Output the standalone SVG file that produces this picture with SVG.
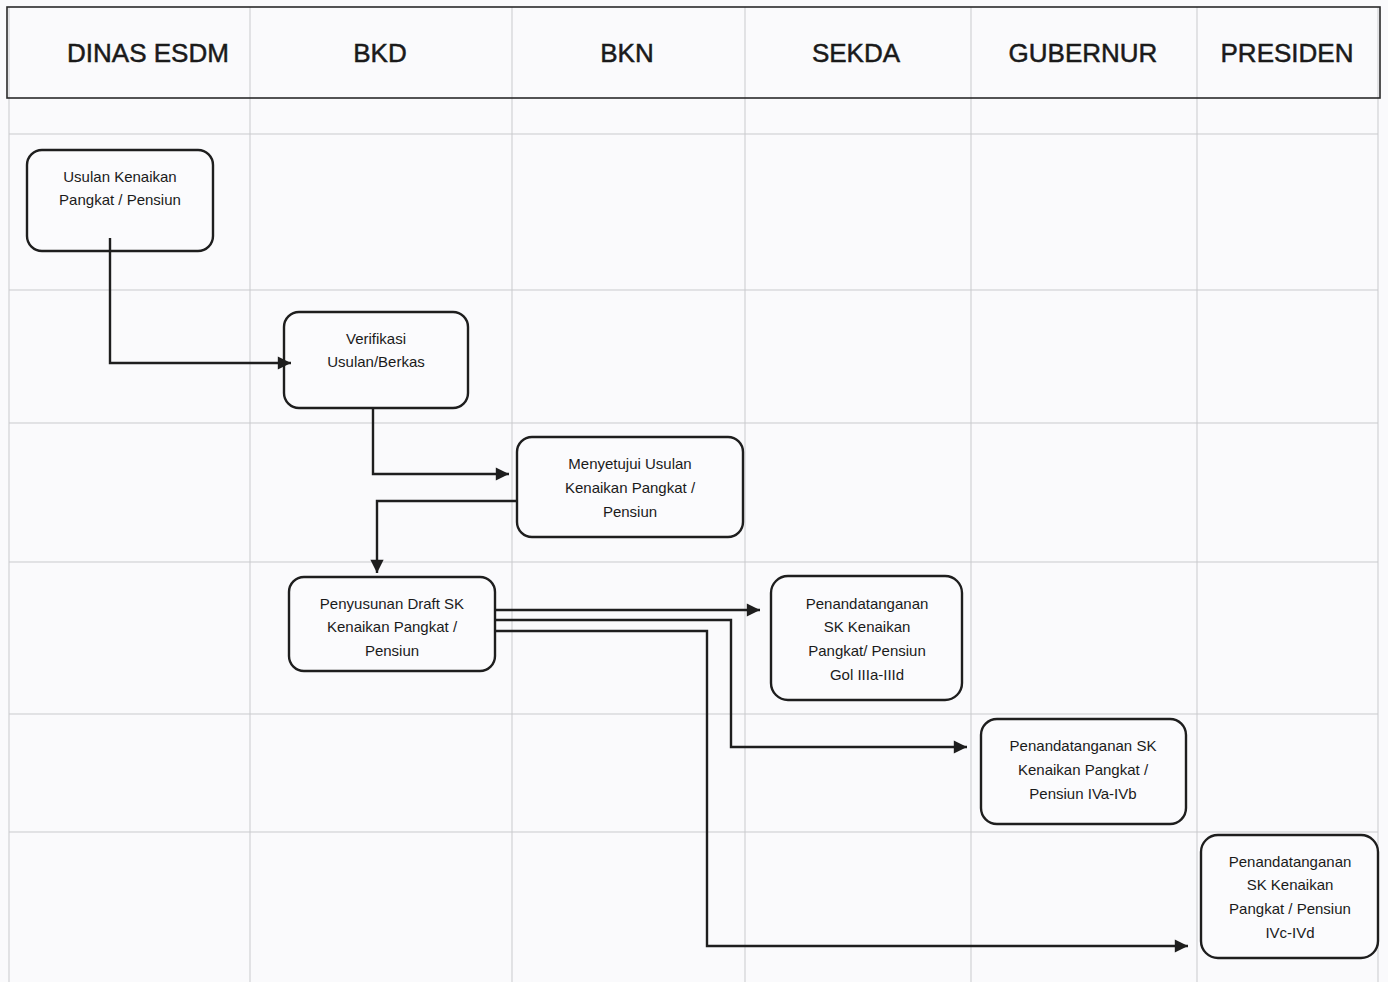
<svg xmlns="http://www.w3.org/2000/svg" width="1388" height="982" viewBox="0 0 1388 982">
<style>
.bg{fill:#fafafc}
.grid{stroke:#c9cacd;stroke-width:1;fill:none}
.hdr{fill:none;stroke:#2a2a2a;stroke-width:1.6}
.ht{font-family:"Liberation Sans",Arial,sans-serif;font-size:26px;fill:#1a1a1a;stroke:#1a1a1a;stroke-width:0.5;text-anchor:middle}
.node rect{fill:#fbfbfd;stroke:#1e1e1e;stroke-width:2.4}
.node text{font-family:"Liberation Sans",Arial,sans-serif;font-size:15px;fill:#1a1a1a;text-anchor:middle}
.conn path{fill:none;stroke:#1e1e1e;stroke-width:2.4}
</style>
<defs>
<marker id="ah" viewBox="0 0 10 10" refX="10" refY="5" markerWidth="6" markerHeight="5.5" orient="auto" markerUnits="strokeWidth">
<path d="M0,0 L10,5 L0,10 Z" fill="#1e1e1e"/>
</marker>
</defs>
<rect class="bg" x="0" y="0" width="1388" height="982"/>
<g id="grid">
<path class="grid" d="M9,7V982 M250,7V982 M512,7V982 M745,7V982 M971,7V982 M1197,7V982 M1378,7V982"/>
<path class="grid" d="M9,134H1378 M9,290H1378 M9,423H1378 M9,562H1378 M9,714H1378 M9,832H1378"/>
</g>
<g id="header">
<rect class="hdr" x="7" y="7" width="1373" height="91"/>
<text class="ht" x="148" y="62">DINAS ESDM</text>
<text class="ht" x="380" y="62">BKD</text>
<text class="ht" x="627" y="62">BKN</text>
<text class="ht" x="856" y="62">SEKDA</text>
<text class="ht" x="1083" y="62">GUBERNUR</text>
<text class="ht" x="1287" y="62">PRESIDEN</text>
</g>
<g id="n1" class="node">
<rect x="27" y="150" width="186" height="101" rx="15"/>
<text x="120" y="182">Usulan Kenaikan</text>
<text x="120" y="205">Pangkat / Pensiun</text>
</g>
<g id="n2" class="node">
<rect x="284" y="312" width="184" height="96" rx="15"/>
<text x="376" y="344">Verifikasi</text>
<text x="376" y="367">Usulan/Berkas</text>
</g>
<g id="n3" class="node">
<rect x="517" y="437" width="226" height="100" rx="15"/>
<text x="630" y="469">Menyetujui Usulan</text>
<text x="630" y="493">Kenaikan Pangkat /</text>
<text x="630" y="517">Pensiun</text>
</g>
<g id="n4" class="node">
<rect x="289" y="577" width="206" height="94" rx="15"/>
<text x="392" y="609">Penyusunan Draft SK</text>
<text x="392" y="632">Kenaikan Pangkat /</text>
<text x="392" y="656">Pensiun</text>
</g>
<g id="n5" class="node">
<rect x="771" y="576" width="191" height="124" rx="17"/>
<text x="867" y="609">Penandatanganan</text>
<text x="867" y="632">SK Kenaikan</text>
<text x="867" y="656">Pangkat/ Pensiun</text>
<text x="867" y="680">Gol IIIa-IIId</text>
</g>
<g id="n6" class="node">
<rect x="981" y="719" width="205" height="105" rx="16"/>
<text x="1083" y="751">Penandatanganan SK</text>
<text x="1083" y="775">Kenaikan Pangkat /</text>
<text x="1083" y="799">Pensiun IVa-IVb</text>
</g>
<g id="n7" class="node">
<rect x="1201" y="835" width="177" height="123" rx="17"/>
<text x="1290" y="867">Penandatanganan</text>
<text x="1290" y="890">SK Kenaikan</text>
<text x="1290" y="914">Pangkat / Pensiun</text>
<text x="1290" y="938">IVc-IVd</text>
</g>
<g id="connectors" class="conn">
<path d="M110,238 V363 H291" marker-end="url(#ah)"/>
<path d="M373,408 V474 H509" marker-end="url(#ah)"/>
<path d="M517,501 H377 V573" marker-end="url(#ah)"/>
<path d="M495,610 H760" marker-end="url(#ah)"/>
<path d="M495,620 H731 V747 H967" marker-end="url(#ah)"/>
<path d="M495,631 H707 V946 H1188" marker-end="url(#ah)"/>
</g>
</svg>
